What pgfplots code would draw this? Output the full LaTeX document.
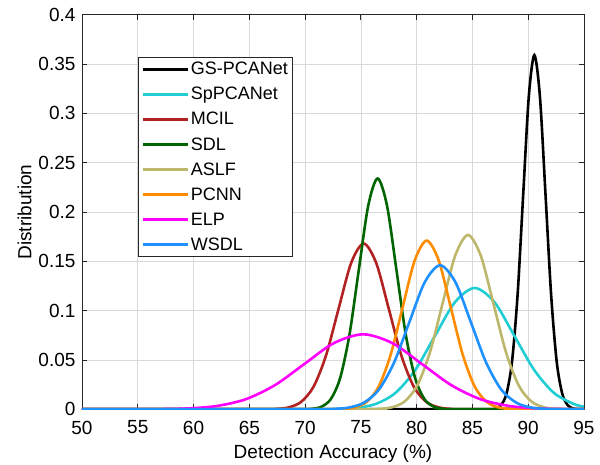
\documentclass[border=0pt]{standalone}
\usepackage{fontspec}
\setmainfont{Liberation Sans}
\usepackage{pgfplots}
\pgfplotsset{compat=1.18}

\definecolor{cGS}{RGB}{0,0,0}
\definecolor{cSp}{RGB}{32,205,210}
\definecolor{cMCIL}{RGB}{178,34,34}
\definecolor{cSDL}{RGB}{0,100,0}
\definecolor{cASLF}{RGB}{189,183,107}
\definecolor{cPCNN}{RGB}{255,140,0}
\definecolor{cELP}{RGB}{255,0,255}
\definecolor{cWSDL}{RGB}{30,144,255}

\begin{document}
\begin{tikzpicture}
\useasboundingbox (-82pt,-55.7pt) rectangle (518pt,409.3pt);
\begin{axis}[
scale only axis,
width=502pt,
height=394.6pt,
xmin=50, xmax=95,
ymin=0, ymax=0.4,
xtick={50,55,60,65,70,75,80,85,90,95},
ytick={0,0.05,0.1,0.15,0.2,0.25,0.3,0.35,0.4},
tick align=inside,
major tick length=5pt,
grid=major,
grid style={black!15, line width=0.7pt},
axis line style={black!85, line width=0.9pt},
every tick/.style={black!85, line width=0.9pt},
xlabel={Detection Accuracy (\%)},
ylabel={Distribution},
/pgf/number format/assume math mode=true,
yticklabel style={/pgf/number format/fixed, /pgf/number format/precision=2, xshift=-3pt},
xticklabel style={yshift=-8pt},
tick label style={font=\fontsize{19}{23}\selectfont},
label style={font=\fontsize{19}{23}\selectfont},
xlabel style={yshift=-4pt},
legend cell align=left,
legend style={font=\fontsize{18}{21}\selectfont, at={(0.112,0.892)}, anchor=north west,
  draw=black!85, line width=0.9pt, fill=white, inner sep=2.5pt, row sep=7pt},
legend image code/.code={\draw[mark repeat=2, mark phase=2, #1, line width=2.8pt] plot coordinates {(0pt,0pt) (22pt,0pt) (45pt,0pt)};},
every axis plot/.append style={line width=2.6pt, smooth},
]
\addplot[cGS] coordinates {(50,0) (86.55,0.00012) (87.05,0.00079) (87.55,0.00399) (88.05,0.01577) (88.55,0.04857) (89.05,0.11657) (89.55,0.21773) (90.05,0.31682) (90.55,0.359) (91.05,0.31682) (91.55,0.21773) (92.05,0.11657) (92.55,0.04857) (93.05,0.01577) (93.55,0.00399) (94.05,0.00079) (94.55,0.00012) (95,0)};
\addlegendentry{GS-PCANet}
\addplot[cSp] coordinates {(50,0) (71.0,0.00004) (72.78,0.00027) (74.55,0.00137) (76.33,0.0054) (78.1,0.01664) (79.88,0.03994) (81.65,0.0746) (83.43,0.10855) (85.2,0.123) (86.98,0.10855) (88.75,0.0746) (90.53,0.03994) (92.3,0.01664) (94.08,0.0054) (95,0.0027)};
\addlegendentry{SpPCANet}
\addplot[cMCIL] coordinates {(50,0) (66.25,0.00006) (67.375,0.00037) (68.5,0.00187) (69.625,0.00738) (70.75,0.02273) (71.875,0.05455) (73.0,0.10189) (74.125,0.14826) (75.25,0.168) (76.375,0.14826) (77.5,0.10189) (78.625,0.05455) (79.75,0.02273) (80.875,0.00738) (82.0,0.00187) (83.125,0.00037) (84.25,0.00006) (95,0)};
\addlegendentry{MCIL}
\addplot[cSDL] coordinates {(50,0) (69.78,0.00008) (70.62,0.00051) (71.46,0.0026) (72.3,0.01028) (73.14,0.03166) (73.98,0.07598) (74.82,0.14192) (75.66,0.20651) (76.5,0.234) (77.34,0.20651) (78.18,0.14192) (79.02,0.07598) (79.86,0.03166) (80.7,0.01028) (81.54,0.0026) (82.38,0.00051) (83.22,0.00008) (95,0)};
\addlegendentry{SDL}
\addplot[cASLF] coordinates {(50,0) (75.48,0.00006) (76.62,0.00039) (77.76,0.00196) (78.9,0.00776) (80.04,0.02391) (81.18,0.05737) (82.32,0.10717) (83.46,0.15594) (84.6,0.1767) (85.74,0.15594) (86.88,0.10717) (88.02,0.05737) (89.16,0.02391) (90.3,0.00776) (91.44,0.00196) (92.58,0.00039) (93.72,0.00006) (95,0)};
\addlegendentry{ASLF}
\addplot[cPCNN] coordinates {(50,0) (72.3,0.00006) (73.375,0.00037) (74.45,0.0019) (75.525,0.00751) (76.6,0.02314) (77.675,0.05552) (78.75,0.10371) (79.825,0.15091) (80.9,0.171) (81.975,0.15091) (83.05,0.10371) (84.125,0.05552) (85.2,0.02314) (86.275,0.00751) (87.35,0.0019) (88.425,0.00037) (89.5,0.00006) (95,0)};
\addlegendentry{PCNN}
\addplot[cELP] coordinates {(50,0) (54.2,0.00003) (56.825,0.00017) (59.45,0.00084) (62.075,0.00334) (64.7,0.01028) (67.325,0.02468) (69.95,0.04609) (72.575,0.06707) (75.2,0.076) (77.825,0.06707) (80.45,0.04609) (83.075,0.02468) (85.7,0.01028) (88.325,0.00334) (90.95,0.00084) (93.575,0.00017) (95,0.00006)};
\addlegendentry{ELP}
\addplot[cWSDL] coordinates {(50,0) (71.1,0.00005) (72.475,0.00032) (73.85,0.00162) (75.225,0.00642) (76.6,0.01975) (77.975,0.04741) (79.35,0.08855) (80.725,0.12885) (82.1,0.146) (83.475,0.12885) (84.85,0.08855) (86.225,0.04741) (87.6,0.01975) (88.975,0.00642) (90.35,0.00162) (91.725,0.00032) (93.1,0.00005) (95,0)};
\addlegendentry{WSDL}
\end{axis}
\end{tikzpicture}
\end{document}
